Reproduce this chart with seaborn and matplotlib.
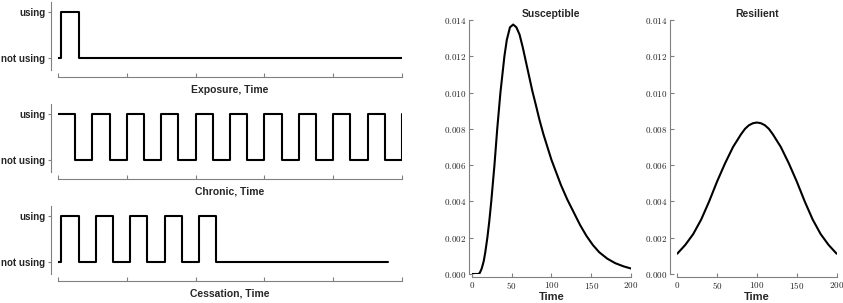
import numpy as np
import pandas as pd
import matplotlib
matplotlib.use('Agg')
import matplotlib.pyplot as plt
from matplotlib.ticker import FuncFormatter
import seaborn as sns

# usage patterns: times where the state changes, state (1 = using, 0 = not using)
exposure_t = [0, 2, 12, 200]
exposure_state = [0, 1, 0, 0]

chronic_t = [0, 10, 20, 30, 40, 50, 60, 70, 80, 90, 100,
             110, 120, 130, 140, 150, 160, 170, 180, 190, 200]
chronic_state = [1, 0, 1, 0, 1, 0, 1, 0, 1, 0, 1,
                 0, 1, 0, 1, 0, 1, 0, 1, 0, 1]

cessation_t = [0, 2, 12, 22, 32, 42, 52, 62, 72, 82, 92, 192]
cessation_state = [0, 1, 0, 1, 0, 1, 0, 1, 0, 1, 0, 0]

pattern_names = ['Exposure', 'Chronic', 'Cessation']
state_labels = ['not using', 'using']

# response curves
susc_t = [0, 8, 10, 12.5, 15, 17, 19.6, 22, 24.5, 28.5, 32, 36, 41, 44, 48,
          52, 56, 60, 64, 68, 72, 76, 80, 85, 90, 95, 100, 106, 112, 120,
          128, 136, 144, 152, 160, 170, 180, 190, 200]
susc_val = [0, 0, 0.00005, 0.0003, 0.0007, 0.0012, 0.002, 0.0029, 0.004,
            0.006, 0.008, 0.010, 0.012, 0.0129, 0.0136, 0.01375, 0.0136,
            0.0132, 0.0125, 0.0117, 0.0109, 0.0101, 0.0094, 0.0085, 0.0077,
            0.0070, 0.0063, 0.0056, 0.0049, 0.0041, 0.0034, 0.0027, 0.0021,
            0.0016, 0.0012, 0.00085, 0.0006, 0.00043, 0.0003]

res_t = [0, 10, 20, 30, 40, 50, 60, 70, 80, 85, 90, 95, 100, 105, 110, 115,
         120, 130, 140, 150, 160, 170, 180, 190, 200]
res_val = [0.00112, 0.0016, 0.0022, 0.0030, 0.0040, 0.0051, 0.0061, 0.0070,
           0.0077, 0.0080, 0.0082, 0.00831, 0.00835, 0.00831, 0.0082, 0.0080,
           0.0077, 0.0070, 0.0061, 0.0051, 0.0040, 0.0030, 0.0022, 0.0016,
           0.00112]

sns.set_style('ticks')
plt.rcParams['font.family'] = ['Liberation Sans', 'DejaVu Sans']
plt.rcParams['mathtext.fontset'] = 'cm'
spine_col = '#808080'

fig = plt.figure(figsize=(8.43, 3.03), dpi=100)

patterns = [(exposure_t, exposure_state), (chronic_t, chronic_state),
            (cessation_t, cessation_state)]
bottoms = [0.769, 0.4323, 0.0957]
for (t, s), name, b in zip(patterns, pattern_names, bottoms):
    ax = fig.add_axes([0.0688, b, 0.408, 0.2244])
    sns.lineplot(x=t, y=s, drawstyle='steps-post', color='black',
                 linewidth=1.5, ax=ax)
    # despine first: moving the spines resets the tick labels
    sns.despine(ax=ax, offset=5)
    ax.set_xlim(0, 200)
    ax.set_ylim(-0.26, 1.22)
    ax.tick_params(axis='x', direction='in', length=3, color=spine_col)
    ax.tick_params(axis='y', direction='out', length=2.5, pad=1.5, color=spine_col)
    ax.set_xticks(np.linspace(0, 200, 6))
    ax.set_xticklabels([])
    ax.set_yticks([0, 1])
    ax.set_yticklabels(state_labels, fontsize=7, fontweight='bold')
    ax.set_xlabel(name + ', Time', fontsize=7.5, fontweight='bold', labelpad=2)
    for sp in ['left', 'bottom']:
        ax.spines[sp].set_color(spine_col)
        ax.spines[sp].set_linewidth(0.8)

fmt_y = FuncFormatter(lambda v, p: '$%.3f$' % v)
fmt_x = FuncFormatter(lambda v, p: '$%d$' % v)
curves = [('Susceptible', susc_t, susc_val, 0.5596, 2),
          ('Resilient', res_t, res_val, 0.8034, 5)]
for title, t, v, left, off in curves:
    ax = fig.add_axes([left, 0.0957, 0.189, 0.8383])
    df = pd.DataFrame({'Time': t, 'value': v})
    sns.lineplot(data=df, x='Time', y='value', color='black', linewidth=1.5, ax=ax)
    sns.despine(ax=ax)
    ax.spines['left'].set_position(('outward', off))
    ax.spines['bottom'].set_position(('outward', 2))
    ax.set_xlim(0, 200)
    ax.set_ylim(0, 0.014)
    ax.set_xticks([0, 50, 100, 150, 200])
    ax.set_yticks(np.linspace(0, 0.014, 8))
    ax.xaxis.set_major_formatter(fmt_x)
    ax.yaxis.set_major_formatter(fmt_y)
    ax.tick_params(direction='in', length=3, pad=2, labelsize=6.5, color=spine_col)
    ax.set_ylabel('')
    ax.set_xlabel('Time', fontsize=8, fontweight='bold', labelpad=1)
    ax.set_title(title, fontsize=7.5, fontweight='bold', pad=2)
    for sp in ['left', 'bottom']:
        ax.spines[sp].set_color(spine_col)
        ax.spines[sp].set_linewidth(0.8)

fig.savefig('out.png', dpi=100)
